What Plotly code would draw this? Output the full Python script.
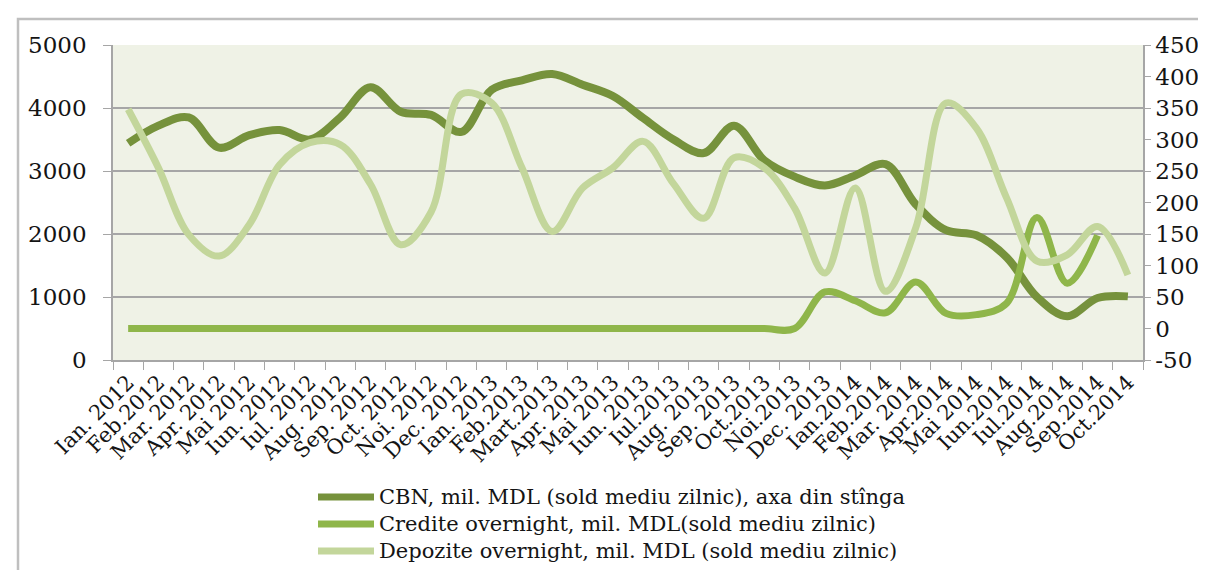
import plotly.graph_objects as go

labels = ["Ian. 2012", "Feb.2012", "Mar. 2012", "Apr. 2012", "Mai 2012", "Iun. 2012",
          "Iul. 2012", "Aug. 2012", "Sep. 2012", "Oct. 2012", "Noi. 2012", "Dec. 2012",
          "Ian. 2013", "Feb.2013", "Mart.2013", "Apr. 2013", "Mai 2013", "Iun. 2013",
          "Iul.2013", "Aug. 2013", "Sep. 2013", "Oct.2013", "Noi.2013", "Dec. 2013",
          "Ian.2014", "Feb.2014", "Mar. 2014", "Apr.2014", "Mai 2014", "Iun.2014",
          "Iul.2014", "Aug.2014", "Sep.2014", "Oct.2014"]

cbn = [3440, 3720, 3850, 3370, 3570, 3650, 3500, 3850, 4330, 3940, 3890, 3620,
       4290, 4440, 4540, 4370, 4190, 3840, 3500, 3285, 3720, 3170, 2910, 2770,
       2930, 3110, 2470, 2060, 1980, 1630, 1000, 695, 985, 1010]

credite = [0, 0, 0, 0, 0, 0, 0, 0, 0, 0, 0, 0,
           0, 0, 0, 0, 0, 0, 0, 0, 0, 0, 0, 58,
           44, 25, 74, 24, 22, 40, 176, 72, 148, None]

depozite = [348, 255, 149, 115, 165, 260, 295, 292, 229, 133, 185, 372,
            358, 255, 154, 223, 255, 297, 230, 175, 271, 255, 191, 88,
            223, 59, 160, 358, 318, 207, 107, 117, 162, 85]

left_ticks = [0, 1000, 2000, 3000, 4000, 5000]
right_ticks = [-50, 0, 50, 100, 150, 200, 250, 300, 350, 400, 450]

names = ["CBN, mil. MDL (sold mediu zilnic), axa din stînga",
         "Credite overnight, mil. MDL(sold mediu zilnic)",
         "Depozite overnight, mil. MDL (sold mediu zilnic)"]
colors = ["#76923c", "#8fb64a", "#c3d69b"]
widths = [8, 7, 7]

FONT = "DejaVu Serif"
TXT = "#141414"
GRID = "#a6a6a6"

fig = go.Figure()
fig.add_trace(go.Scatter(x=labels, y=cbn, name=names[0], mode="lines",
                         line=dict(color=colors[0], width=widths[0], shape="spline", smoothing=1.0),
                         yaxis="y", showlegend=False))
fig.add_trace(go.Scatter(x=labels, y=credite, name=names[1], mode="lines",
                         line=dict(color=colors[1], width=widths[1], shape="spline", smoothing=1.0),
                         yaxis="y2", showlegend=False))
fig.add_trace(go.Scatter(x=labels, y=depozite, name=names[2], mode="lines",
                         line=dict(color=colors[2], width=widths[2], shape="spline", smoothing=1.0),
                         yaxis="y2", showlegend=False))

W, H = 1206, 570
L, R, T, B = 105, 71, 37, 218
pw, ph = W - L - R, H - T - B

def px_x(p):
    return (p - L) / pw

def px_y(p):
    return (H - B - p) / ph

shapes = [dict(type="rect", xref="paper", yref="paper",
               x0=px_x(10), x1=px_x(1300), y0=px_y(700), y1=px_y(11),
               line=dict(color="#bfbfbf", width=2.5), fillcolor="rgba(0,0,0,0)", layer="below")]
annotations = []
row_y = [489, 516, 543]
for nm, c, yy in zip(names, colors, row_y):
    shapes.append(dict(type="line", xref="paper", yref="paper",
                       x0=px_x(310), x1=px_x(366), y0=px_y(yy), y1=px_y(yy),
                       line=dict(color=c, width=7)))
    annotations.append(dict(xref="paper", yref="paper", x=px_x(369), y=px_y(yy),
                            xanchor="left", yanchor="middle", showarrow=False,
                            text=nm, font=dict(family=FONT, size=21, color=TXT)))

fig.update_layout(
    width=W, height=H,
    margin=dict(l=L, r=R, t=T, b=B, pad=0, autoexpand=False),
    paper_bgcolor="white",
    plot_bgcolor="#eff2e6",
    font=dict(family=FONT, size=21, color=TXT),
    showlegend=False,
    xaxis=dict(type="category", tickangle=-45, tickfont=dict(family=FONT, size=21, color=TXT),
               showgrid=False, showline=True, linecolor=GRID, linewidth=1.5,
               ticks="outside", tickson="boundaries", ticklen=8, tickcolor=GRID,
               range=[-0.5, 33.5], fixedrange=True),
    yaxis=dict(range=[0, 5000], tickvals=left_ticks, ticktext=[str(v) for v in left_ticks],
               showgrid=True, gridcolor=GRID, gridwidth=1.5,
               showline=True, linecolor=GRID, linewidth=1.5, ticks="outside", ticklen=8,
               tickcolor=GRID, tickfont=dict(family=FONT, size=23, color=TXT), zeroline=False,
               ticklabelstandoff=12),
    yaxis2=dict(range=[-50, 450], tickvals=right_ticks, ticktext=[str(v) for v in right_ticks],
                overlaying="y", side="right",
                showgrid=False, showline=True, linecolor=GRID, linewidth=1.5, ticks="outside",
                ticklen=6, tickcolor=GRID, tickfont=dict(family=FONT, size=23, color=TXT),
                zeroline=False),
    shapes=shapes,
    annotations=annotations,
)

fig.write_html("out.html")
